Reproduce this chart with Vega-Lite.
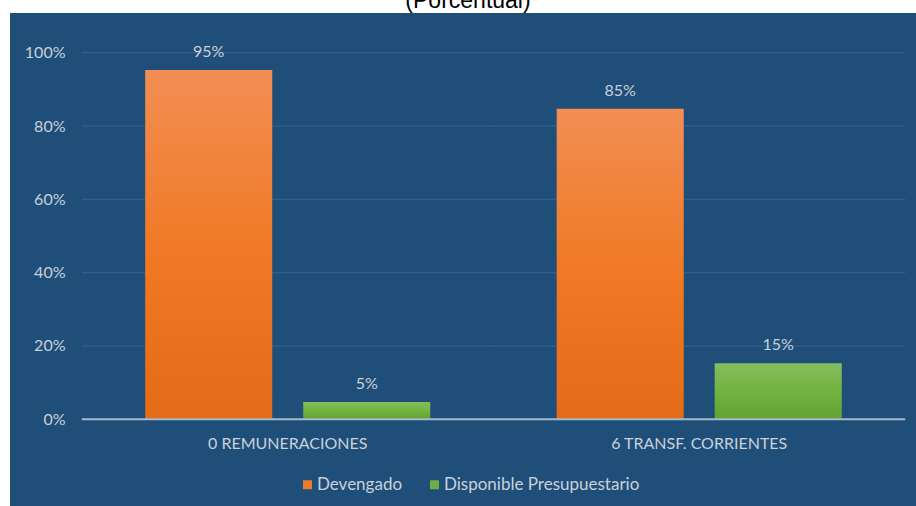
{
  "$schema": "https://vega.github.io/schema/vega-lite/v6.json",
  "width": 906,
  "height": 493,
  "autosize": {"type": "none"},
  "padding": {"left": 10, "top": 13, "right": 0, "bottom": 0},
  "background": "white",
  "title": {
    "text": "(Porcentual)",
    "font": "Liberation Sans",
    "fontSize": 23,
    "fontWeight": "normal",
    "color": "#000000",
    "anchor": "middle",
    "offset": 0,
    "dx": 5
  },
  "config": {
    "view": {"fill": "#1F4E79", "stroke": null},
    "font": "Lato"
  },
  "datasets": {
    "main": [
      {"categoria": "0  REMUNERACIONES", "serie": "Devengado", "valor": 0.953},
      {"categoria": "0  REMUNERACIONES", "serie": "Disponible Presupuestario", "valor": 0.047},
      {"categoria": "6  TRANSF. CORRIENTES", "serie": "Devengado", "valor": 0.847},
      {"categoria": "6  TRANSF. CORRIENTES", "serie": "Disponible Presupuestario", "valor": 0.153}
    ],
    "grid": [
      {"categoria": "0  REMUNERACIONES", "valor": 0},
      {"categoria": "6  TRANSF. CORRIENTES", "valor": 0},
      {"categoria": "0  REMUNERACIONES", "valor": 0.2},
      {"categoria": "6  TRANSF. CORRIENTES", "valor": 0.2},
      {"categoria": "0  REMUNERACIONES", "valor": 0.4},
      {"categoria": "6  TRANSF. CORRIENTES", "valor": 0.4},
      {"categoria": "0  REMUNERACIONES", "valor": 0.6},
      {"categoria": "6  TRANSF. CORRIENTES", "valor": 0.6},
      {"categoria": "0  REMUNERACIONES", "valor": 0.8},
      {"categoria": "6  TRANSF. CORRIENTES", "valor": 0.8},
      {"categoria": "0  REMUNERACIONES", "valor": 1.0},
      {"categoria": "6  TRANSF. CORRIENTES", "valor": 1.0}
    ]
  },
  "layer": [
    {
      "data": {"name": "grid"},
      "transform": [{"filter": "datum.valor > 0"}],
      "mark": {"type": "tick", "size": 412, "thickness": 1, "color": "#3A6590", "opacity": 1},
      "encoding": {
        "x": {"field": "categoria", "type": "nominal",
              "scale": {"domain": ["0  REMUNERACIONES", "6  TRANSF. CORRIENTES"], "paddingInner": 0, "paddingOuter": 0.1009, "align": 0.867},
              "axis": {"title": null, "orient": "bottom", "offset": -71, "domain": false, "ticks": false, "grid": false,
                       "labelPadding": 0, "labelBaseline": "top", "labelAngle": 0, "labelLimit": 0, "labelFont": "Lato", "labelFontSize": 16, "labelColor": "#C9D1DA"}},
        "y": {"field": "valor", "type": "quantitative",
              "scale": {"domain": [-0.2365, 1.1083], "nice": false, "zero": false},
              "axis": {"title": null, "values": [0, 0.2, 0.4, 0.6, 0.8, 1], "format": ".0%", "offset": -55, "domain": false, "ticks": false, "grid": false,
                       "labelPadding": 0, "labelFont": "Lato", "labelFontSize": 16, "labelColor": "#C9D1DA"}}
      }
    },
    {
      "data": {"name": "main"},
      "mark": {"type": "bar"},
      "encoding": {
        "x": {"field": "categoria", "type": "nominal"},
        "xOffset": {"field": "serie", "type": "nominal",
                    "scale": {"domain": ["Devengado", "Disponible Presupuestario"], "paddingInner": 0.196, "paddingOuter": 0.4}},
        "y": {"field": "valor", "type": "quantitative"},
        "y2": {"datum": 0},
        "color": {
          "field": "serie", "type": "nominal",
          "scale": {"domain": ["Devengado", "Disponible Presupuestario"], "range": ["#EE7A2E", "#70AD47"]},
          "legend": {"title": null, "orient": "none", "direction": "horizontal", "legendX": 289, "legendY": 463,
                     "symbolType": "square", "symbolSize": 81, "symbolStrokeWidth": 0, "labelFont": "Lato", "labelFontSize": 17,
                     "labelColor": "#C9D1DA", "columnPadding": 23, "labelOffset": 1, "padding": 0, "labelLimit": 400},
          "condition": [
            {"test": "datum.serie === 'Devengado'",
             "value": {"gradient": "linear", "x1": 0, "y1": 0, "x2": 0, "y2": 1,
                       "stops": [{"offset": 0, "color": "#F28E54"}, {"offset": 0.5, "color": "#F07A26"}, {"offset": 1, "color": "#E46B18"}]}},
            {"test": "datum.serie !== 'Devengado'",
             "value": {"gradient": "linear", "x1": 0, "y1": 0, "x2": 0, "y2": 1,
                       "stops": [{"offset": 0, "color": "#86BC61"}, {"offset": 0.5, "color": "#72B340"}, {"offset": 1, "color": "#62A233"}]}}
          ]
        }
      }
    },
    {
      "data": {"name": "grid"},
      "transform": [{"filter": "datum.valor == 0"}],
      "mark": {"type": "tick", "size": 412, "thickness": 2, "color": "#A9B9CB", "opacity": 1},
      "encoding": {
        "x": {"field": "categoria", "type": "nominal"},
        "y": {"field": "valor", "type": "quantitative"}
      }
    },
    {
      "data": {"name": "main"},
      "mark": {"type": "text", "baseline": "alphabetic", "dy": -13, "font": "Lato", "fontSize": 16, "color": "#C9D1DA"},
      "encoding": {
        "x": {"field": "categoria", "type": "nominal"},
        "xOffset": {"field": "serie", "type": "nominal"},
        "y": {"field": "valor", "type": "quantitative"},
        "text": {"field": "valor", "type": "quantitative", "format": ".0%"}
      }
    }
  ]
}
